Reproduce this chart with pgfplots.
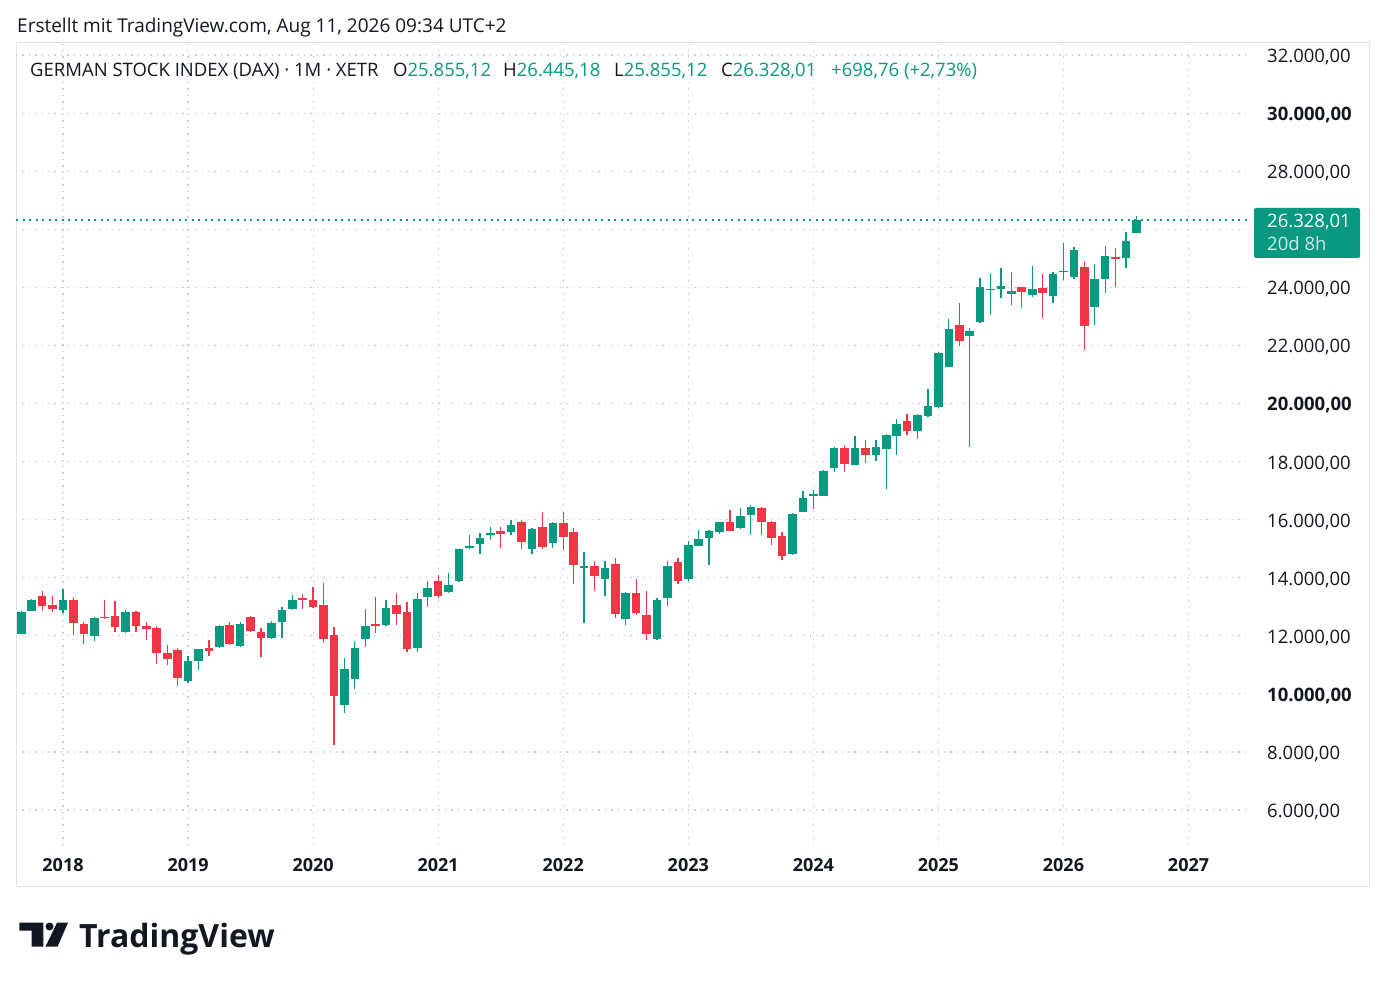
\documentclass[border=0pt]{standalone}
\usepackage{pgfplots}
\pgfplotsset{compat=1.18}
\usepackage{pgfplotstable}
\usepackage{fontspec}
\setmainfont{Open Sans}
\definecolor{tvgreen}{HTML}{089981}
\definecolor{tvred}{HTML}{F23645}
\definecolor{tvtext}{HTML}{131722}
\definecolor{tvgrid}{HTML}{CDD0D7}
\definecolor{tvframe}{HTML}{E0E3EB}

% t = months since Jan 2018
\pgfplotstableread{
t O H L C
-4 12076 12860 12050 12834
-3 12857 13265 12840 13242
0 12892 13627 12776 13219
3 11983 12659 11820 12624
6 12123 12904 12100 12822
12 10444 11295 10362 11143
13 11143 11551 10829 11528
15 11603 12378 11590 12344
17 11649 12471 11626 12402
20 11916 12518 11881 12437
21 12471 12993 11916 12877
22 12923 13398 12900 13247
27 9600 11244 9333 10850
28 10526 11823 10155 11591
29 11881 12935 11626 12321
31 12356 13247 12340 12958
34 11591 13479 11450 13280
35 13341 13891 12998 13662
37 13513 14155 13490 13754
38 13891 15003 13857 14980
39 15014 15461 15000 15095
40 15152 15553 14808 15381
41 15496 15759 15289 15530
43 15587 15989 15473 15805
45 15003 15725 14808 15668
47 15209 15931 15037 15874
50 14361 14900 12436 14407
52 13949 14579 13353 14350
54 12573 13493 12366 13470
57 11883 13298 11860 13240
58 13309 14563 13010 14390
60 13953 15253 13900 15126
61 15103 15644 15080 15333
62 15356 15656 14436 15621
63 15586 15930 15506 15908
65 15712 16402 15690 16115
66 16172 16517 15471 16425
70 14804 16230 14780 16196
71 16276 17000 16250 16736
72 16835 17010 16350 16880
73 16820 17726 16800 17680
74 17783 18505 17645 18482
76 17897 18883 17874 18482
78 18218 18757 18012 18505
79 18425 18963 17049 18906
80 18883 19479 18218 19307
82 19055 19628 18791 19593
83 19559 20510 19536 19903
84 19890 21771 19846 21722
85 21265 22925 21240 22548
87 22330 22590 18515 22480
88 22790 24309 22770 24000
89 23908 24481 23049 23954
90 23943 24653 23622 24057
91 23759 24539 23393 23885
93 23736 24745 23679 23943
95 23702 24539 23450 24470
96 24527 25513 24252 24573
97 24367 25398 24275 25284
99 23312 24791 22705 24275
100 24275 25433 23817 25089
102 25020 25914 24653 25604
103 25855.12 26445.18 25855.12 26328.01
}\upcandles

\pgfplotstableread{
t O H L C
-2 13359 13557 12857 13032
-1 13044 13359 12834 12927
1 13242 13324 12018 12449
2 12391 12461 11726 12076
4 12659 13219 12577 12601
5 12670 13184 12134 12286
7 12834 12850 12134 12344
8 12321 12461 11866 12228
9 12274 12344 11027 11411
10 11400 11691 10992 11201
11 11516 11575 10269 10537
14 11575 11843 11295 11493
16 12356 12471 11684 11707
18 12634 12668 12147 12170
19 12147 12263 11279 11939
23 13294 13444 12923 13259
24 13247 13676 12958 12981
25 13050 13826 11742 11881
26 12031 12286 8245 9912
30 12402 13328 12112 12321
32 13050 13479 12356 12761
33 12819 13166 11452 11545
36 13880 14086 13296 13376
42 15610 15759 15037 15519
44 15920 15989 15003 15232
46 15748 16264 15003 15060
48 15897 16264 14946 15416
49 15576 15725 13800 14430
51 14407 14579 13548 14063
53 14464 14694 12596 12745
55 13458 13953 12711 12780
56 12711 13550 11860 12055
59 14528 14666 13781 13896
64 15931 16334 15600 15621
67 16391 16420 15471 15908
68 15931 15965 15126 15356
69 15425 15563 14620 14758
75 18470 18585 17645 17920
77 18470 18757 17966 18218
81 19399 19651 18906 19055
86 22691 23473 21990 22135
92 24000 24023 23278 23851
94 23966 24447 22957 23817
98 24688 24905 21846 22671
101 25054 25341 24023 24974
}\downcandles

\pgfplotstableread{
t P
-4.51 26328.01
113.9 26328.01
}\lastprice

\pgfplotsset{
  candle/.style={only marks, mark=*, mark size=0pt,
    mark options={draw opacity=0, fill opacity=0}, forget plot,
    error bars/.cd, y dir=both, y explicit, error mark=none,
    error bar style={draw=#1, solid}},
}

\begin{document}
\begin{tikzpicture}[x=1bp,y=1bp]
\fill[white] (0,0) rectangle (1385,984);
\draw[tvframe, line width=1bp] (16,98) rectangle (1369,941);
\begin{axis}[
  at={(16bp,139bp)}, anchor=south west,
  scale only axis, width=1234bp, height=802bp,
  xmin=-4.51, xmax=113.9, ymin=4795, ymax=32415,
  axis line style={draw=none},
  major tick length=0pt,
  scaled y ticks=false, scaled x ticks=false,
  clip=true,
  grid=major,
  major grid style={tvgrid, line width=1.2bp, dash pattern=on 1.3bp off 5.1bp},
  xtick={0,12,24,36,48,60,72,84,96,108},
  xticklabels={2018,2019,2020,2021,2022,2023,2024,2025,2026,2027},
  xticklabel style={anchor=base, yshift=-26bp, inner sep=0pt, text=tvtext,
    font=\fontsize{18bp}{20bp}\selectfont\bfseries},
  ytick={6000,8000,10000,12000,14000,16000,18000,20000,22000,24000,26000,28000,30000,32000},
  yticklabels={{6.000,00},{8.000,00},{\textbf{10.000,00}},{12.000,00},{14.000,00},{16.000,00},{18.000,00},{\textbf{20.000,00}},{22.000,00},{24.000,00},{},{28.000,00},{\textbf{30.000,00}},{32.000,00}},
  yticklabel pos=right,
  yticklabel style={anchor=west, xshift=17bp, yshift=-2bp, inner sep=0pt, text=tvtext,
    font=\fontsize{18.5bp}{20bp}\selectfont},
]
% wicks
\addplot[candle=tvgreen, error bar style={line width=1.3bp}]
  table[x=t, y expr={(\thisrow{H}+\thisrow{L})/2}, y error expr={(\thisrow{H}-\thisrow{L})/2}] {\upcandles};
\addplot[candle=tvred, error bar style={line width=1.3bp}]
  table[x=t, y expr={(\thisrow{H}+\thisrow{L})/2}, y error expr={(\thisrow{H}-\thisrow{L})/2}] {\downcandles};
% bodies
\addplot[candle=tvgreen, error bar style={line width=8.6bp}]
  table[x=t, y expr={(\thisrow{O}+\thisrow{C})/2}, y error expr={max(abs(\thisrow{C}-\thisrow{O})/2,17)}] {\upcandles};
\addplot[candle=tvred, error bar style={line width=8.6bp}]
  table[x=t, y expr={(\thisrow{O}+\thisrow{C})/2}, y error expr={max(abs(\thisrow{C}-\thisrow{O})/2,17)}] {\downcandles};
% current price line
\addplot[color=tvgreen, draw=tvgreen, line width=1.8bp, dash pattern=on 2bp off 4.5bp, forget plot, mark=none]
  table[x=t, y=P] {\lastprice};
\end{axis}

% price label
\fill[tvgreen, rounded corners=2bp] (1254,726) rectangle (1360,776);
\node[anchor=base west, inner sep=0pt, text=white, font=\fontsize{18.5bp}{20bp}\selectfont] at (1267,756) {26.328,01};
\node[anchor=base west, inner sep=0pt, text=white, opacity=0.8, font=\fontsize{18.5bp}{20bp}\selectfont] at (1267,733) {20d 8h};

% header texts
\node[anchor=base west, inner sep=0pt, text=tvtext, font=\fontsize{19bp}{20bp}\selectfont] at (17,951) {Erstellt mit TradingView.com, Aug 11, 2026 09:34 UTC+2};
\begin{scope}[every node/.style={anchor=base west, inner sep=0pt, font=\fontsize{18.5bp}{20bp}\selectfont}]
\node[text=tvtext] at (30,907) {GERMAN STOCK INDEX (DAX) · 1M · XETR};
\node[text=tvtext] at (393,907) {O\textcolor{tvgreen}{25.855,12}};
\node[text=tvtext] at (503,907) {H\textcolor{tvgreen}{26.445,18}};
\node[text=tvtext] at (614,907) {L\textcolor{tvgreen}{25.855,12}};
\node[text=tvtext] at (721,907) {C\textcolor{tvgreen}{26.328,01}};
\node[text=tvgreen] at (831,907) {+698,76 (+2,73\%)};
\end{scope}

% TradingView logo
\fill[tvtext] (19.3,61.3) -- (43.3,61.3) -- (43.3,37.3) -- (31.7,37.3) -- (31.7,53.3) -- (19.3,53.3) -- cycle;
\fill[tvtext] (49.5,57.5) circle (4);
\fill[tvtext] (57,61.3) -- (68,61.3) -- (57.5,37.3) -- (45.5,37.3) -- cycle;
\node[anchor=base west, inner sep=0pt, text=tvtext, font=\fontsize{32bp}{36bp}\selectfont\bfseries] at (79,37) {TradingView};
\end{tikzpicture}
\end{document}
